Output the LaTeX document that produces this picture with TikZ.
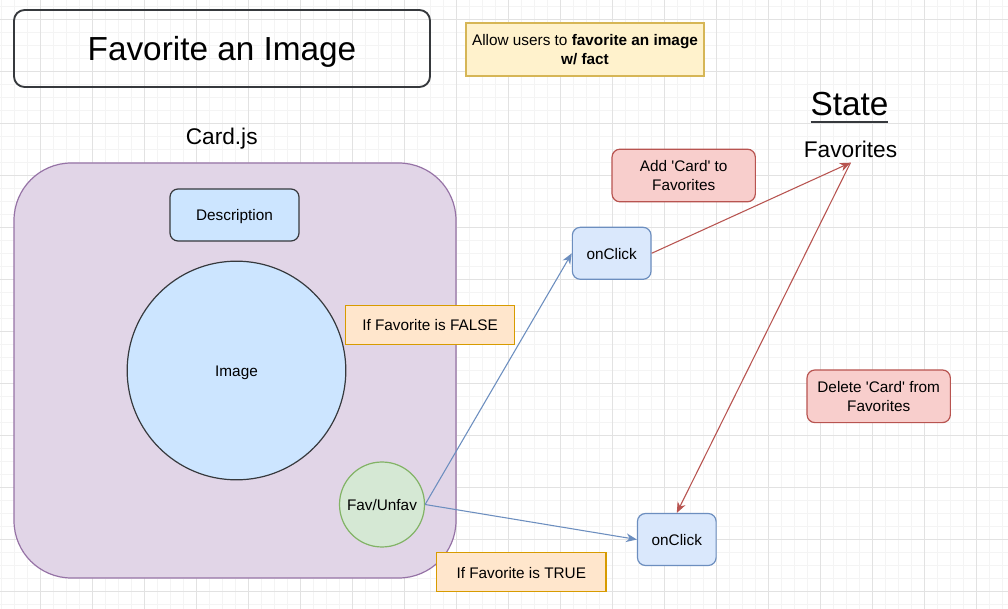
\documentclass[tikz,border=0pt]{standalone}
\usepackage{fontspec}
\setmainfont{Liberation Sans}
\usepackage{tikz}
\usetikzlibrary{positioning,arrows.meta}
\definecolor{gridmin}{HTML}{F4F4F4}
\definecolor{gridmaj}{HTML}{E2E2E2}
\definecolor{edgedark}{HTML}{36393D}
\definecolor{lightblue}{HTML}{CCE5FF}
\definecolor{cardfill}{HTML}{E1D5E7}
\definecolor{carddraw}{HTML}{9673A6}
\definecolor{favfill}{HTML}{D5E8D4}
\definecolor{favdraw}{HTML}{82B366}
\definecolor{clickfill}{HTML}{DAE8FC}
\definecolor{linkblue}{HTML}{6C8EBF}
\definecolor{notefill}{HTML}{FFE6CC}
\definecolor{notedraw}{HTML}{D79B00}
\definecolor{redfill}{HTML}{F8CECC}
\definecolor{linkred}{HTML}{B85450}
\definecolor{goalfill}{HTML}{FFF2CC}
\definecolor{goaldraw}{HTML}{D6B656}
\tikzset{every picture/.style={line width=0.75pt}}
\tikzset{
  twoline/.style={font=\fontsize{11.5}{14.25}\selectfont, align=center, inner sep=0pt},
  small/.style={twoline, text height=9.6pt, text depth=0.6pt},
  large/.style={font=\fontsize{17}{20}\selectfont, anchor=base},
  huge/.style={font=\fontsize{25}{30}\selectfont},
  clickbox/.style={small, draw=linkblue, fill=clickfill, line width=0.9pt,
    rounded corners=6pt, minimum width=59pt, minimum height=39pt},
  rednote/.style={twoline, draw=linkred, fill=redfill, line width=0.9pt,
    rounded corners=6pt, minimum width=107.5pt, minimum height=39.5pt},
  ifnote/.style={small, draw=notedraw, fill=notefill, line width=0.9pt,
    minimum width=127pt, minimum height=29pt},
  flow/.style={-{Stealth[length=8pt,width=6.5pt,inset=2.5pt]}, line width=0.8pt}
}
\newcommand{\stateul}[1]{\setbox0\hbox{#1}\leavevmode
  \rlap{\color{edgedark}\rule[-5.5pt]{\wd0}{1.4pt}}\box0}
\newcommand{\q}{\textquotesingle}

\begin{document}
\begin{tikzpicture}[x=0.75pt,y=-0.75pt]
\useasboundingbox (0,0) rectangle (1008,609);
\fill[white] (0,0) rectangle (1008,609);
% background grid
\begin{scope}
\clip (0,0) rectangle (1008,609);
\foreach \gx in {1.3,14.3,...,1008}
  \draw[gridmin] (\gx,0) -- (\gx,609);
\foreach \gy in {6.3,19.3,...,609}
  \draw[gridmin] (0,\gy) -- (1008,\gy);
\foreach \gx in {40.3,92.3,...,1008}
  \draw[gridmaj] (\gx,0) -- (\gx,609);
\foreach \gy in {19.3,71.3,...,609}
  \draw[gridmaj] (0,\gy) -- (1008,\gy);
\end{scope}
%
\node (title) at (222,48.5) [huge, draw=edgedark, line width=1.4pt, rounded corners=8pt,
  minimum width=312pt, minimum height=57.75pt, inner sep=0pt,
  text height=17.9pt, text depth=0pt] {Favorite an Image};
\node (goal) at (585,49.5) [twoline, draw=goaldraw, fill=goalfill, line width=0.9pt,
  minimum width=178.5pt, minimum height=39.75pt]
  {Allow users to \textbf{favorite an image}\\\textbf{w/ fact}};
%
\node (cardjs) at (221.7,145) [large] {Card.js};
\node (card) at (235,370.5) [draw=carddraw, fill=cardfill, line width=0.9pt,
  rounded corners=43pt, minimum width=331.5pt, minimum height=311.25pt] {};
\node (desc) at (234.5,215) [small, draw=edgedark, fill=lightblue, line width=0.9pt,
  rounded corners=6pt, minimum width=96.75pt, minimum height=39pt] {Description};
\node (img) at (236.5,370.5) [small, circle, draw=edgedark, fill=lightblue,
  line width=0.9pt, minimum size=164pt] {Image};
\node (fav) at (382,504.5) [small, circle, draw=favdraw, fill=favfill,
  line width=0.9pt, minimum size=63.75pt] {Fav/Unfav};
%
\node (isfalse) at (430,325) [ifnote] {If Favorite is FALSE};
\node (istrue) at (521.3,572.2) [ifnote] {If Favorite is TRUE};
\node (click1) at (611.7,253.3) [clickbox] {onClick};
\node (click2) at (676.8,539.5) [clickbox] {onClick};
\node (addnote) at (683.7,175.5) [rednote] {Add \q Card\q{} to\\Favorites};
\node (delnote) at (878.7,396.3) [rednote] {Delete \q Card\q{} from\\Favorites};
%
\node (state) at (849.5,116) [huge, anchor=base] {\stateul{State}};
\node (favs) at (850.5,157.3) [large, inner sep=3.5pt] {Favorites};
%
\foreach \Source/\Target/\Col in {%
        fav.east/click1.west/linkblue,
        fav.east/click2.west/linkblue,
        click1.east/favs.south/linkred,
        favs.south/click2.north/linkred%
    }
\draw[flow, draw=\Col] (\Source) -- (\Target);
\end{tikzpicture}
\end{document}
